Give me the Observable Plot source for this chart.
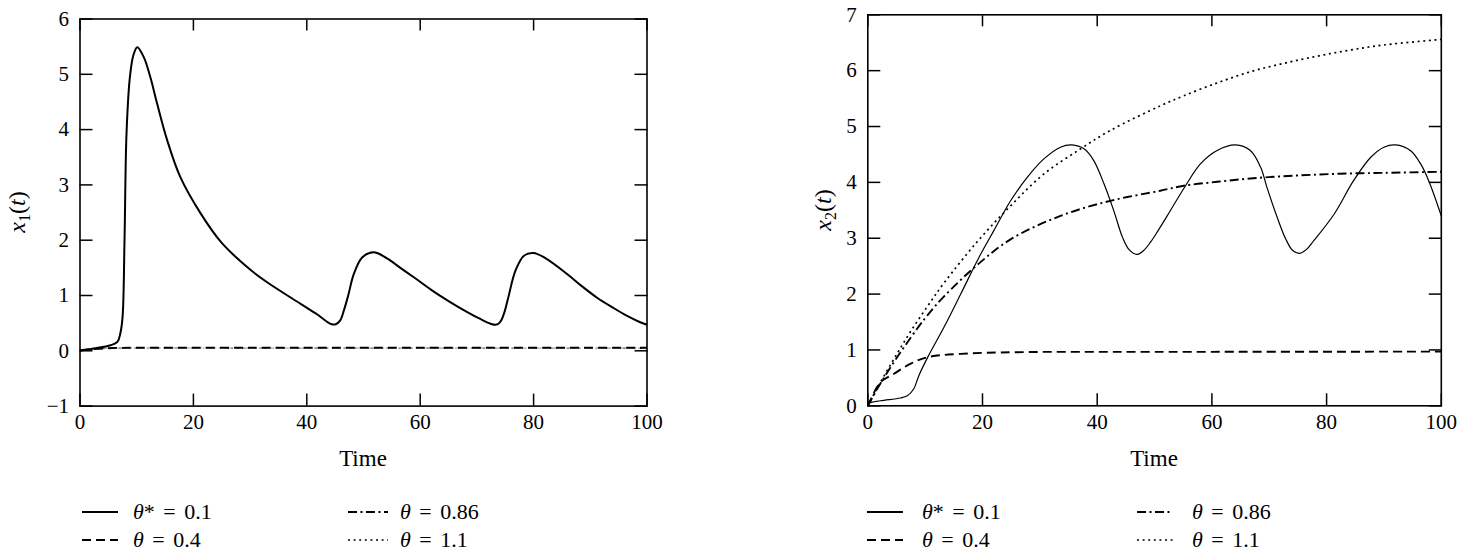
<!DOCTYPE html>
<html>
<head>
<meta charset="utf-8">
<script src="https://cdn.jsdelivr.net/npm/d3@7"></script>
<script src="https://cdn.jsdelivr.net/npm/@observablehq/plot@0.6"></script>
<style>
  body { margin: 0; background: #fff; }
  #wrap { position: relative; width: 1465px; height: 558px; font-family: "Liberation Serif", "DejaVu Serif", serif; color: #000; overflow: hidden; }
  #wrap svg, #wrap svg text { font-family: "Liberation Serif", "DejaVu Serif", serif !important; }
  .chart { position: absolute; top: 0; }
  .xlabel { position: absolute; font-size: 23px; transform: translate(-50%, -50%); white-space: nowrap; }
  .ylabel { position: absolute; font-size: 24px; transform: translate(-50%, -50%) rotate(-90deg); white-space: nowrap; }
  .ylabel sub { font-size: 16px; vertical-align: -5px; }
  .legtext { position: absolute; font-size: 22px; word-spacing: 3px; transform: translateY(-50%); white-space: nowrap; line-height: 1; }
  .legsample { position: absolute; transform: translateY(-50%); }
</style>
</head>
<body>
<div id="wrap"></div>
<script>
// ---------- tick labels ----------
const timeTicks = [0, 20, 40, 60, 80, 100];
const x1Ticks = [-1, 0, 1, 2, 3, 4, 5, 6];
const x2Ticks = [0, 1, 2, 3, 4, 5, 6, 7];

// ---------- legend ----------
const seriesNames = ["θ* = 0.1", "θ = 0.4", "θ = 0.86", "θ = 1.1"];

// ---------- left panel: x1(t) ----------
const x1SolidT = [0, 2.4, 5.4, 6.6, 7.1, 7.5, 7.85, 8.2, 8.8, 9.4, 10.1, 11.25, 12.4, 13.6, 15.4, 17.7, 21.3, 25, 30, 33, 38.9, 41.8, 43.5, 44.4, 45.1, 45.9, 46.6, 47.3, 48.3, 49.8, 51.8, 54, 56.5, 59, 62.4, 65, 68.3, 70.5, 72.4, 73.3, 74.1, 74.8, 75.5, 76.8, 78.3, 80, 82, 85.9, 88.5, 91.2, 94, 96.5, 98.5, 100];
const x1SolidV = [0.0, 0.04, 0.1, 0.16, 0.31, 0.6, 1.99, 3.92, 4.95, 5.34, 5.49, 5.31, 4.95, 4.47, 3.8, 3.14, 2.48, 1.95, 1.47, 1.24, 0.85, 0.66, 0.53, 0.48, 0.48, 0.55, 0.75, 1.0, 1.39, 1.69, 1.78, 1.68, 1.5, 1.32, 1.07, 0.9, 0.70, 0.58, 0.49, 0.47, 0.52, 0.68, 0.95, 1.45, 1.72, 1.77, 1.68, 1.39, 1.17, 0.96, 0.78, 0.63, 0.53, 0.47];
const x1DashT = [0, 2.4, 5.8, 10, 30, 60, 100];
const x1DashV = [0.01, 0.03, 0.05, 0.055, 0.055, 0.055, 0.055];
const x1DashDotT = [0, 2.4, 5.8, 10, 30, 60, 100];
const x1DashDotV = [0.01, 0.03, 0.045, 0.05, 0.05, 0.05, 0.05];
const x1DotT = [0, 2.4, 5.8, 10, 30, 60, 100];
const x1DotV = [0.01, 0.03, 0.045, 0.05, 0.05, 0.05, 0.05];

// ---------- right panel: x2(t) ----------
const x2SolidT = [0, 0.3, 2.2, 5.7, 6.9, 8, 8.9, 10.5, 13.3, 16.2, 19.4, 22, 24.9, 27.8, 30.7, 33.6, 35.6, 37.7, 39.4, 41.2, 42.9, 44.4, 45.6, 46.9, 48, 49.3, 50.7, 52.2, 55.4, 58, 60.9, 64.1, 66.7, 68.5, 69.6, 71.4, 72.9, 74.1, 75.3, 76.5, 77.8, 81.3, 84.7, 87.7, 90, 92, 94.6, 96.4, 97.8, 100];
const x2SolidV = [0.0, 0.05, 0.09, 0.14, 0.18, 0.3, 0.54, 0.88, 1.41, 2.0, 2.66, 3.14, 3.67, 4.09, 4.42, 4.63, 4.67, 4.6, 4.39, 3.97, 3.49, 3.02, 2.79, 2.71, 2.77, 2.93, 3.15, 3.4, 3.94, 4.33, 4.57, 4.67, 4.57, 4.27, 3.91, 3.37, 2.98, 2.78, 2.73, 2.8, 2.96, 3.43, 4.03, 4.45, 4.63, 4.67, 4.57, 4.33, 4.03, 3.4];
const x2DashT = [0, 2.2, 4.5, 7.4, 10.4, 16.2, 26, 50, 100];
const x2DashV = [0.0, 0.42, 0.57, 0.75, 0.87, 0.93, 0.96, 0.965, 0.97];
const x2DashDotT = [0, 2.2, 4.8, 8.6, 10.4, 13.3, 19.4, 24.9, 33.6, 42.3, 51, 55.1, 60.9, 66.7, 72.5, 78.4, 84.2, 90, 100];
const x2DashDotV = [0.0, 0.4, 0.82, 1.38, 1.62, 1.96, 2.55, 2.98, 3.40, 3.67, 3.85, 3.94, 4.01, 4.07, 4.11, 4.14, 4.16, 4.17, 4.19];
const x2DotT = [0, 2.2, 4.8, 7.4, 10.4, 13.3, 19.1, 24.9, 30.7, 37.1, 42.3, 51, 55.1, 60.9, 66.7, 72.5, 78.4, 84.2, 90, 100];
const x2DotV = [0.0, 0.42, 0.88, 1.32, 1.78, 2.2, 2.94, 3.58, 4.15, 4.6, 4.93, 5.37, 5.55, 5.78, 5.98, 6.13, 6.26, 6.37, 6.46, 6.56];

// ---------- styles ----------
const STYLES = {
  solid:   {dash: null,          width: 1.9},
  dash:    {dash: "9,5",         width: 1.9},
  dashdot: {dash: "9,3.5,2,3.5", width: 1.9},
  dot:     {dash: "2,3.6",       width: 1.7}
};

const fmt = d => (d < 0 ? "\u2212" : "") + Math.abs(d);
const zipRows = (t, v) => t.map((d, i) => ({t: d, v: v[i]}));
const wrap = document.getElementById("wrap");

function makeChart({left, width, height, mL, mR, mT, mB, yDomain, yTicks, series, solidWidth}) {
  const marks = [];
  for (const s of series) {
    const st = STYLES[s.style];
    marks.push(Plot.line(zipRows(s.t, s.v), {
      x: "t", y: "v", curve: "catmull-rom",
      stroke: "#000",
      strokeWidth: s.style === "solid" ? solidWidth : (s.width || st.width),
      strokeDasharray: st.dash || undefined,
      strokeOpacity: s.opacity ?? 1,
      strokeLinecap: "butt"
    }));
  }
  marks.push(
    Plot.axisX(timeTicks, {anchor: "bottom", tickSize: -12, tickPadding: 20, fontSize: 21, strokeWidth: 1.5, tickFormat: fmt, label: null}),
    Plot.axisX(timeTicks, {anchor: "top", tickSize: -11, tickFormat: () => "", strokeWidth: 1.5, label: null}),
    Plot.axisY(yTicks, {anchor: "left", tickSize: -13, tickPadding: 24, fontSize: 21, strokeWidth: 1.5, tickFormat: fmt, label: null}),
    Plot.axisY(yTicks, {anchor: "right", tickSize: -13, tickFormat: () => "", strokeWidth: 1.5, label: null}),
    Plot.frame({stroke: "#000", strokeWidth: 1.6})
  );
  const svg = Plot.plot({
    width, height,
    marginLeft: mL, marginRight: mR, marginTop: mT, marginBottom: mB,
    x: {domain: [0, 100]},
    y: {domain: yDomain},
    style: {fontFamily: "Liberation Serif, serif", color: "#000", background: "transparent", overflow: "visible"},
    marks
  });
  svg.classList.add("chart");
  svg.style.left = left + "px";
  wrap.appendChild(svg);
}

// Left chart: frame x 79.5..646.5, y 18.5..405.6
makeChart({
  left: 0, width: 660, height: 470, mL: 79.5, mR: 13.5, mT: 18.5, mB: 64.4,
  yDomain: [-1, 6], yTicks: x1Ticks, solidWidth: 2.0,
  series: [
    {t: x1DotT, v: x1DotV, style: "dot", opacity: 0.35, width: 1.2},
    {t: x1DashDotT, v: x1DashDotV, style: "dashdot", opacity: 0.35, width: 1.2},
    {t: x1DashT, v: x1DashV, style: "dash"},
    {t: x1SolidT, v: x1SolidV, style: "solid"}
  ]
});

// Right chart: frame x 867.3..1440.8, y 14.3..405.3
makeChart({
  left: 780, width: 685, height: 470, mL: 87.3, mR: 24.2, mT: 14.3, mB: 64.7,
  yDomain: [0, 7], yTicks: x2Ticks, solidWidth: 1.2,
  series: [
    {t: x2DotT, v: x2DotV, style: "dot"},
    {t: x2DashDotT, v: x2DashDotV, style: "dashdot"},
    {t: x2DashT, v: x2DashV, style: "dash"},
    {t: x2SolidT, v: x2SolidV, style: "solid"}
  ]
});

// ---------- axis titles ----------
function addDiv(cls, html, x, y) {
  const d = document.createElement("div");
  d.className = cls;
  d.innerHTML = html;
  d.style.left = x + "px";
  d.style.top = y + "px";
  wrap.appendChild(d);
  return d;
}
addDiv("xlabel", "Time", 363, 459);
addDiv("xlabel", "Time", 1154, 459);
addDiv("ylabel", "<i>x</i><sub>1</sub>(<i>t</i>)", 19, 212);
addDiv("ylabel", "<i>x</i><sub>2</sub>(<i>t</i>)", 825, 210);

// ---------- legends ----------
function sample(style, x1, x2, y, solidW) {
  const st = STYLES[style];
  const w = x2 - x1;
  const d = document.createElement("div");
  d.className = "legsample";
  d.style.left = x1 + "px";
  d.style.top = y + "px";
  d.innerHTML = `<svg width="${w}" height="6" style="display:block"><line x1="0" y1="3" x2="${w}" y2="3" stroke="#000" stroke-width="${style === "solid" ? solidW : st.width}" ${st.dash ? `stroke-dasharray="${st.dash}"` : ""}/></svg>`;
  wrap.appendChild(d);
}
function legText(name, x, y) {
  addDiv("legtext", name.replace("θ", "<i>θ</i>"), x, y);
}
const legendLayouts = [
  {c1s: 82, c1e: 118, c1t: 133, c2s: 348, c2e: 388, c2t: 400},
  {c1s: 867, c1e: 903, c1t: 922, c2s: 1137, c2e: 1173, c2t: 1192}
];
const styleOrder = ["solid", "dash", "dashdot", "dot"];
for (const L of legendLayouts) {
  const rows = [512, 540];
  [[0, L.c1s, L.c1e, L.c1t, rows[0]], [1, L.c1s, L.c1e, L.c1t, rows[1]], [2, L.c2s, L.c2e, L.c2t, rows[0]], [3, L.c2s, L.c2e, L.c2t, rows[1]]]
    .forEach(([i, s, e, tx, y]) => {
      sample(styleOrder[i], s, e, y, 1.8);
      legText(seriesNames[i], tx, y);
    });
}
</script>
</body>
</html>
